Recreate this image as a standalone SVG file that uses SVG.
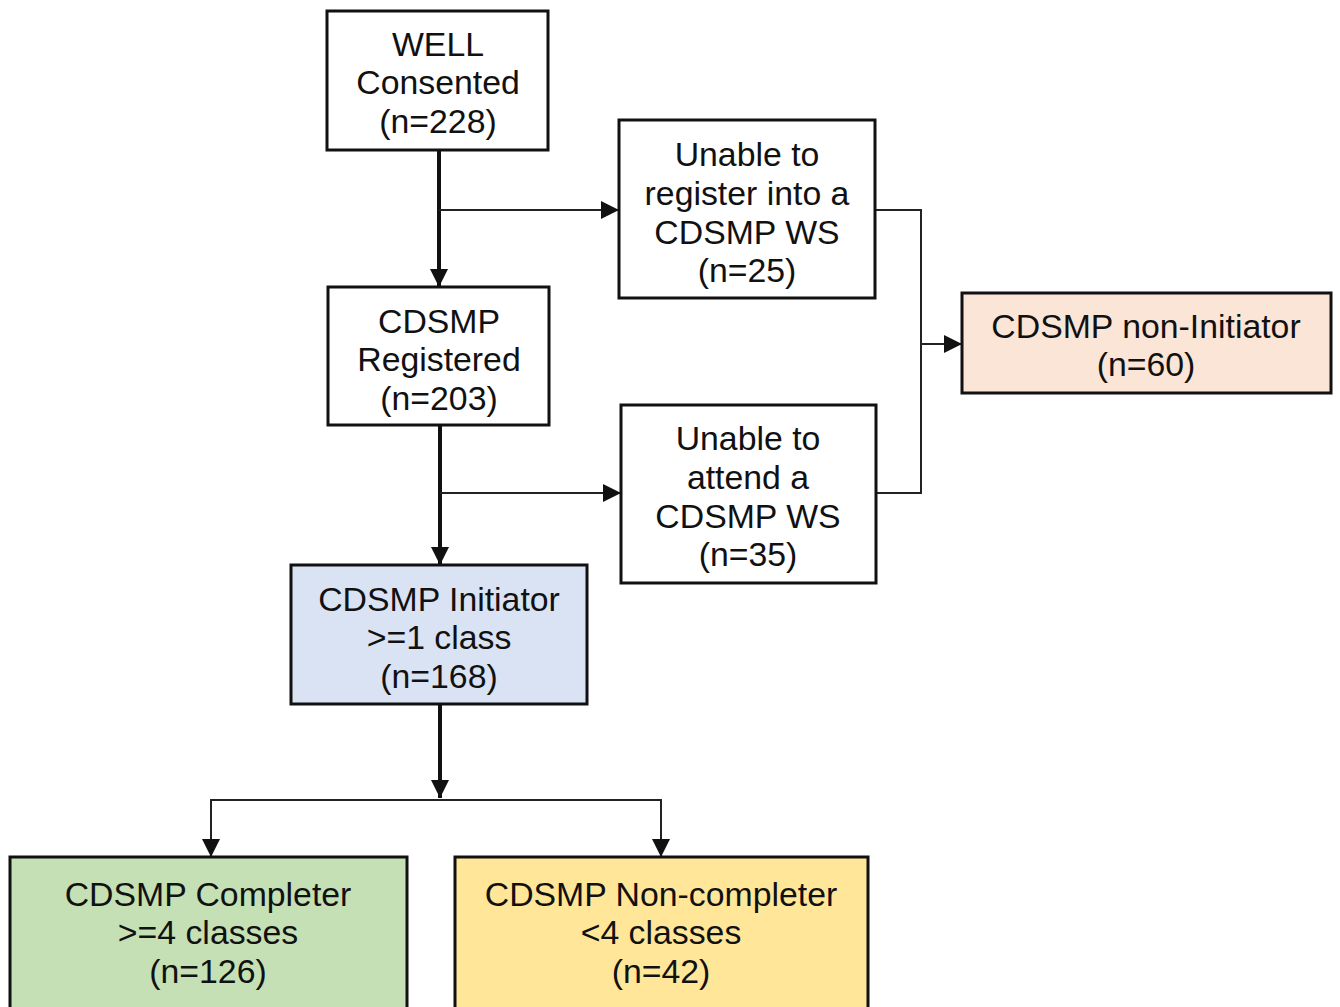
<svg xmlns="http://www.w3.org/2000/svg" width="1340" height="1007" viewBox="0 0 1340 1007">
<style>
.box{stroke:#111;stroke-width:3}
.t{font-family:"Liberation Sans",Arial,sans-serif;font-size:33.8px;fill:#111;text-anchor:middle}
.thick{stroke:#111;stroke-width:4;fill:none}
.thin{stroke:#222;stroke-width:2;fill:none}
</style>
<defs>
<marker id="ah" markerUnits="userSpaceOnUse" markerWidth="20" markerHeight="18" refX="18" refY="9" orient="auto">
<path d="M0,0 L18,9 L0,18 Z" fill="#111"/>
</marker>
</defs>
<rect width="1340" height="1007" fill="#fff"/>
<g id="connectors">
<line class="thick" x1="439" y1="150" x2="439" y2="287" marker-end="url(#ah)"/>
<line class="thin" x1="439" y1="210" x2="619" y2="210" marker-end="url(#ah)"/>
<line class="thick" x1="440" y1="425" x2="440" y2="565" marker-end="url(#ah)"/>
<line class="thin" x1="440" y1="493" x2="621" y2="493" marker-end="url(#ah)"/>
<polyline class="thin" points="875,210 921,210 921,493 876,493"/>
<line class="thin" x1="921" y1="344" x2="962" y2="344" marker-end="url(#ah)"/>
<line class="thick" x1="440" y1="704" x2="440" y2="798" marker-end="url(#ah)"/>
<polyline class="thin" points="211,857 211,800 661,800 661,857"/>
<line class="thin" x1="211" y1="800" x2="211" y2="857" marker-end="url(#ah)"/>
<line class="thin" x1="661" y1="800" x2="661" y2="857" marker-end="url(#ah)"/>
</g>
<g id="well">
<rect class="box" x="327" y="11" width="221" height="139" fill="#fff"/>
<text class="t" x="438" y="56">WELL</text>
<text class="t" x="438" y="94">Consented</text>
<text class="t" x="438" y="133">(n=228)</text>
</g>
<g id="unable-register">
<rect class="box" x="619" y="120" width="256" height="178" fill="#fff"/>
<text class="t" x="747" y="166">Unable to</text>
<text class="t" x="747" y="205">register into a</text>
<text class="t" x="747" y="244">CDSMP WS</text>
<text class="t" x="747" y="282">(n=25)</text>
</g>
<g id="registered">
<rect class="box" x="328" y="287" width="221" height="138" fill="#fff"/>
<text class="t" x="439" y="333">CDSMP</text>
<text class="t" x="439" y="371">Registered</text>
<text class="t" x="439" y="410">(n=203)</text>
</g>
<g id="non-initiator">
<rect class="box" x="962" y="293" width="369" height="100" fill="#fbe5d6"/>
<text class="t" x="1146" y="338">CDSMP non-Initiator</text>
<text class="t" x="1146" y="376">(n=60)</text>
</g>
<g id="unable-attend">
<rect class="box" x="621" y="405" width="255" height="178" fill="#fff"/>
<text class="t" x="748" y="450">Unable to</text>
<text class="t" x="748" y="489">attend a</text>
<text class="t" x="748" y="528">CDSMP WS</text>
<text class="t" x="748" y="566">(n=35)</text>
</g>
<g id="initiator">
<rect class="box" x="291" y="565" width="296" height="139" fill="#dae3f3"/>
<text class="t" x="439" y="611">CDSMP Initiator</text>
<text class="t" x="439" y="649">&gt;=1 class</text>
<text class="t" x="439" y="688">(n=168)</text>
</g>
<g id="completer">
<rect class="box" x="10" y="857" width="397" height="152" fill="#c5e0b4"/>
<text class="t" x="208" y="906">CDSMP Completer</text>
<text class="t" x="208" y="944">&gt;=4 classes</text>
<text class="t" x="208" y="983">(n=126)</text>
</g>
<g id="non-completer">
<rect class="box" x="455" y="857" width="413" height="152" fill="#ffe699"/>
<text class="t" x="661" y="906">CDSMP Non-completer</text>
<text class="t" x="661" y="944">&lt;4 classes</text>
<text class="t" x="661" y="983">(n=42)</text>
</g>
</svg>
